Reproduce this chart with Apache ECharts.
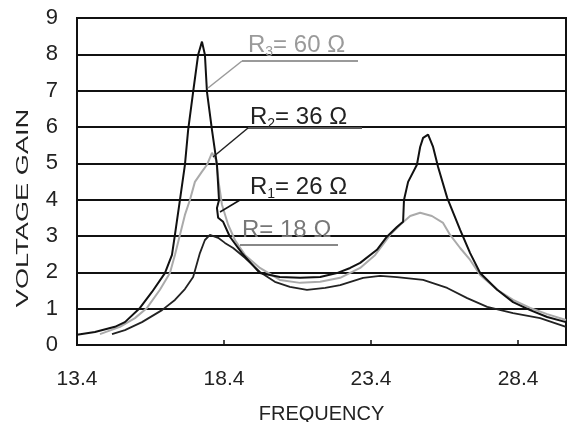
<!DOCTYPE html>
<html>
<head>
<meta charset="utf-8">
<script src="https://cdn.jsdelivr.net/npm/echarts@6/dist/echarts.min.js"></script>
<style>
html,body{margin:0;padding:0;background:#fff;}
#main{width:573px;height:422px;}
</style>
</head>
<body>
<div id="main"></div>
<script>
// R3 = 60 ohm (tallest peaks)
var freq60 = [13.4,14.01,14.69,15.03,15.54,15.95,16.39,16.63,16.73,16.9,17.07,17.18,17.35,17.52,17.65,17.75,17.82,17.99,18.16,18.23,18.16,18.2,18.37,18.6,19.01,19.62,20.3,20.99,21.67,22.24,22.69,23.03,23.6,23.94,24.28,24.49,24.52,24.66,24.96,25.07,25.17,25.34,25.51,25.68,25.99,26.43,26.77,27.11,27.69,28.23,28.81,29.39,30.03];
var gain60 = [0.28,0.36,0.5,0.63,1.02,1.46,1.98,2.48,3.03,3.99,4.96,5.92,6.97,7.99,8.35,7.99,6.97,5.92,4.96,3.99,3.77,3.5,3.39,2.98,2.53,1.98,1.87,1.85,1.87,1.98,2.12,2.26,2.62,2.98,3.25,3.39,3.99,4.49,4.96,5.45,5.7,5.79,5.45,4.9,4.05,3.17,2.53,1.98,1.52,1.18,0.96,0.77,0.63];

// R2 = 36 ohm (grey)
var freq36 = [14.18,14.86,15.37,15.78,16.22,16.56,16.73,16.9,17.07,17.24,17.41,17.65,17.82,17.99,18.13,18.23,18.33,18.54,18.77,19.11,19.62,20.3,20.99,21.67,22.35,23.03,23.54,24.05,24.39,24.73,25.07,25.47,25.85,26.09,26.43,26.77,27.11,27.69,28.23,28.81,29.39,30.03];
var gain36 = [0.3,0.5,0.74,1.02,1.52,1.98,2.48,3.03,3.58,3.99,4.49,4.77,4.96,5.29,5.1,4.41,3.86,3.31,2.89,2.48,2.12,1.79,1.71,1.74,1.85,2.12,2.48,3.03,3.31,3.55,3.64,3.55,3.36,3.03,2.67,2.34,1.93,1.52,1.24,1.02,0.85,0.69];

// R = 18 ohm (lowest)
var freq18 = [14.59,15.03,15.61,16.29,16.73,17.07,17.35,17.58,17.75,17.92,18.2,18.43,18.71,19.11,19.62,20.13,20.64,21.22,21.84,22.35,23.13,23.71,24.28,25.17,25.99,26.67,27.35,28.23,29.15,30.03];
var gain18 = [0.3,0.41,0.63,0.96,1.24,1.54,1.87,2.53,2.89,3.03,2.95,2.81,2.67,2.4,2.01,1.74,1.6,1.52,1.57,1.65,1.85,1.9,1.87,1.79,1.57,1.29,1.05,0.88,0.74,0.5];

var xTicks = [13.4,18.4,23.4,28.4];

function pairs(xs, ys){
	var out = [];
	for (var i = 0; i < xs.length; i++) out.push([xs[i], ys[i]]);
	return out;
}

var myChart = echarts.init(document.getElementById('main'));

var labelFont = 'Liberation Sans, Arial, sans-serif';
function rlabel(main, sub, rest, x, y, color){
	return {
		type: 'text', x: x, y: y, z: 10,
		style: {
			text: '{r|' + main + '}' + (sub ? '{s|' + sub + '}' : '') + '{r|' + rest + '}',
			verticalAlign: 'middle',
			rich: {
				r: {fontSize: 24, fontFamily: labelFont, fill: color, lineHeight: 28},
				s: {fontSize: 14, fontFamily: labelFont, fill: color, lineHeight: 28, verticalAlign: 'bottom'}
			}
		}
	};
}
function seg(x1, y1, x2, y2, color, w){
	return {type: 'line', z: 10, shape: {x1: x1, y1: y1, x2: x2, y2: y2}, style: {stroke: color, lineWidth: w}};
}

var option = {
	animation: false,
	backgroundColor: '#fff',
	grid: {left: 77, right: 7, top: 18, bottom: 77, show: true, borderColor: '#111', borderWidth: 2,
		containLabel: false, outerBoundsMode: 'none'},
	xAxis: {
		type: 'value', min: 13.4, max: 30.03,
		name: 'FREQUENCY', nameLocation: 'middle', nameGap: 59,
		nameTextStyle: {fontSize: 20, color: '#222', fontFamily: labelFont},
		axisLine: {lineStyle: {color: '#111', width: 2}},
		axisTick: {show: true, inside: true, length: 5, customValues: xTicks, lineStyle: {color: '#111', width: 1.5}},
		axisLabel: {customValues: xTicks, fontSize: 21, color: '#222', margin: 24, fontFamily: labelFont, formatter: function(v){ return v.toFixed(1); }},
		splitLine: {show: false}
	},
	yAxis: {
		type: 'value', min: 0, max: 9, interval: 1,
		axisLine: {show: true, lineStyle: {color: '#111', width: 2}},
		axisTick: {show: false},
		axisLabel: {fontSize: 22, color: '#222', margin: 19, fontFamily: labelFont},
		splitLine: {show: true, lineStyle: {color: '#111', width: 2}}
	},
	graphic: [
		{type: 'text', x: 23, y: 208, rotation: Math.PI / 2, scaleX: 1.6, z: 10,
		 style: {text: 'VOLTAGE GAIN', fontSize: 17, fontFamily: labelFont, fill: '#222', align: 'center', verticalAlign: 'middle'}},
		rlabel('R', '3', '= 60 Ω', 248, 45, '#9a9a9a'),
		seg(242, 61, 358, 61, '#9a9a9a', 2),
		seg(242, 61, 208, 88, '#9a9a9a', 1.5),
		rlabel('R', '2', '= 36 Ω', 250, 117, '#222'),
		seg(248, 128, 362, 128, '#555', 2),
		seg(248, 128, 213, 157, '#222', 1.5),
		rlabel('R', '1', '= 26 Ω', 250, 187, '#222'),
		seg(240, 200, 358, 200, '#111', 2),
		seg(240, 200, 220, 212, '#111', 1.5),
		rlabel('R', '', '= 18 Ω', 242, 230, '#777'),
		seg(240, 245, 338, 245, '#888', 2)
	],
	series: [
		{name: 'R3 = 60 Ω', type: 'line', data: pairs(freq60, gain60), showSymbol: false, lineStyle: {color: '#111', width: 2}, z: 4},
		{name: 'R2 = 36 Ω', type: 'line', data: pairs(freq36, gain36), showSymbol: false, lineStyle: {color: '#aaa', width: 2}, z: 3},
		{name: 'R = 18 Ω', type: 'line', data: pairs(freq18, gain18), showSymbol: false, lineStyle: {color: '#222', width: 1.8}, z: 3}
	]
};

myChart.setOption(option);
</script>
</body>
</html>
